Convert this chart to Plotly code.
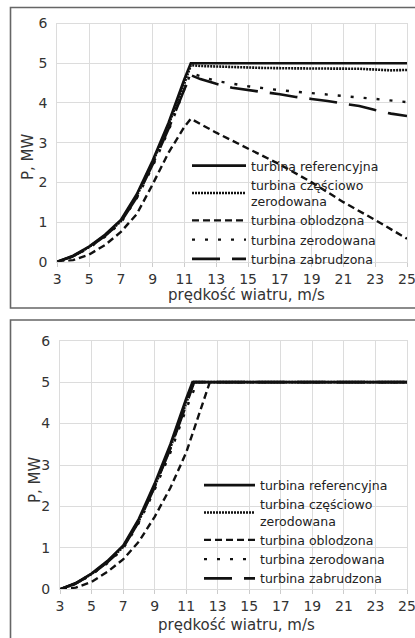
import plotly.graph_objects as go

W, H = 415, 638

# ---------------- data: top panel ----------------
v_ref = [3, 4, 5, 6, 7, 8, 9, 10, 11, 11.4, 25]
p_ref = [0.0, 0.15, 0.38, 0.68, 1.05, 1.7, 2.55, 3.5, 4.6, 5.0, 5.0]

v_part = [3, 4, 5, 6, 7, 8, 9, 10, 11, 11.4, 12, 14, 16, 18, 20, 22, 24, 25]
p_part = [0.0, 0.14, 0.37, 0.66, 1.02, 1.66, 2.5, 3.45, 4.5, 4.95, 4.93, 4.9, 4.88, 4.87, 4.87, 4.86, 4.82, 4.83]

v_ice = [3, 4, 5, 6, 7, 8, 9, 10, 11, 11.4, 13, 15, 17, 19, 21, 23, 25]
p_ice = [0.0, 0.04, 0.18, 0.42, 0.75, 1.2, 1.95, 2.75, 3.4, 3.6, 3.25, 2.85, 2.45, 2.0, 1.5, 1.05, 0.58]

v_ero = [3, 4, 5, 6, 7, 8, 9, 10, 11, 11.4, 13, 15, 17, 19, 21, 23, 25]
p_ero = [0.0, 0.13, 0.35, 0.63, 0.98, 1.6, 2.4, 3.3, 4.35, 4.75, 4.55, 4.42, 4.32, 4.25, 4.17, 4.1, 4.02]

v_dirt = [3, 4, 5, 6, 7, 8, 9, 10, 11, 11.4, 12, 13, 14, 15, 16, 17, 18, 19, 20, 21, 22, 23, 24, 25]
p_dirt = [0.0, 0.14, 0.36, 0.65, 1.0, 1.62, 2.45, 3.35, 4.35, 4.7, 4.6, 4.48, 4.38, 4.32, 4.27, 4.22, 4.15, 4.1, 4.05, 3.98, 3.92, 3.82, 3.73, 3.67]

# ---------------- data: bottom panel ----------------
v2_ref = [3, 4, 5, 6, 7, 8, 9, 10, 11, 11.4, 25]
p2_ref = [0.0, 0.15, 0.38, 0.68, 1.05, 1.7, 2.55, 3.5, 4.6, 5.0, 5.0]

v2_part = [3, 4, 5, 6, 7, 8, 9, 10, 11, 11.5, 25]
p2_part = [0.0, 0.14, 0.37, 0.66, 1.02, 1.65, 2.48, 3.42, 4.5, 5.0, 5.0]

v2_ice = [3, 4, 5, 6, 7, 8, 9, 10, 11, 12, 12.5, 25]
p2_ice = [0.0, 0.04, 0.18, 0.42, 0.72, 1.15, 1.75, 2.45, 3.3, 4.4, 5.0, 5.0]

v2_ero = [3, 4, 5, 6, 7, 8, 9, 10, 11, 11.7, 25]
p2_ero = [0.0, 0.13, 0.35, 0.63, 0.98, 1.6, 2.4, 3.3, 4.35, 5.0, 5.0]

v2_dirt = [3, 4, 5, 6, 7, 8, 9, 10, 11, 11.5, 25]
p2_dirt = [0.0, 0.14, 0.36, 0.65, 1.0, 1.63, 2.47, 3.4, 4.45, 5.0, 5.0]

names = ["turbina referencyjna", "turbina częściowo<br>zerodowana",
         "turbina oblodzona", "turbina zerodowana", "turbina zabrudzona"]
x_title = "prędkość wiatru, m/s"
y_title = "P, MW"
x_ticks = [3, 5, 7, 9, 11, 13, 15, 17, 19, 21, 23, 25]
y_ticks = [0, 1, 2, 3, 4, 5, 6]

styles = [
    dict(color="#111", width=2.6, dash="solid"),
    dict(color="#111", width=2.6, dash="2px,1px"),
    dict(color="#111", width=2.4, dash="7px,4px"),
    dict(color="#111", width=2.4, dash="3px,10px"),
    dict(color="#111", width=2.6, dash="28px,12px"),
]

fig = go.Figure()
top = [(v_ref, p_ref), (v_part, p_part), (v_ice, p_ice), (v_ero, p_ero), (v_dirt, p_dirt)]
bot = [(v2_ref, p2_ref), (v2_part, p2_part), (v2_ice, p2_ice), (v2_ero, p2_ero), (v2_dirt, p2_dirt)]
for (x, y), n, s in zip(top, names, styles):
    fig.add_trace(go.Scatter(x=x, y=y, mode="lines", name=n, line=s,
                             xaxis="x", yaxis="y", legend="legend"))
for (x, y), n, s in zip(bot, names, styles):
    fig.add_trace(go.Scatter(x=x, y=y, mode="lines", name=n, line=s,
                             xaxis="x2", yaxis="y2", legend="legend2"))

def px_x(p):
    return p / W

def px_y(p):
    return 1 - p / H

FAM = "DejaVu Sans, Liberation Sans, Arial, sans-serif"
font = dict(family=FAM, color="#222")
axis_common = dict(showgrid=True, gridcolor="#dcdcdc", gridwidth=1, showline=True,
                   linecolor="#dcdcdc", linewidth=1, mirror=True, zeroline=False,
                   tickfont=dict(family=FAM, size=14, color="#333"), fixedrange=True,
                   automargin=False, ticklabeloverflow="allow")
title_font = dict(family=FAM, size=15, color="#333")

fig.update_layout(
    width=W, height=H, margin=dict(l=0, r=0, t=0, b=0, autoexpand=False),
    paper_bgcolor="white", plot_bgcolor="white", font=font,
    xaxis=dict(domain=[px_x(57.3), px_x(407)], range=[3, 25], tickvals=x_ticks,
               ticks="outside", ticklen=4, tickcolor="#ccc", anchor="y",
               **axis_common),
    yaxis=dict(domain=[px_y(261.7), px_y(23.5)], range=[0, 6], tickvals=y_ticks,
               ticks="outside", ticklen=6, tickcolor="white", anchor="x",
               **axis_common),
    xaxis2=dict(domain=[px_x(60), px_x(407)], range=[3, 25], tickvals=x_ticks,
                ticks="outside", ticklen=4, tickcolor="#ccc", anchor="y2",
                **axis_common),
    yaxis2=dict(domain=[px_y(589.3), px_y(340.7)], range=[0, 6], tickvals=y_ticks,
                ticks="outside", ticklen=6, tickcolor="white", anchor="x2",
                **axis_common),
    legend=dict(x=px_x(187), y=px_y(151), xanchor="left", yanchor="top",
                bgcolor="rgba(0,0,0,0)", font=dict(family=FAM, size=12.5, color="#222"),
                itemwidth=54, tracegroupgap=0, traceorder="normal"),
    legend2=dict(x=px_x(199), y=px_y(470.5), xanchor="left", yanchor="top",
                 bgcolor="rgba(0,0,0,0)", font=dict(family=FAM, size=12.5, color="#222"),
                 itemwidth=51, tracegroupgap=0, traceorder="normal"),
    showlegend=True,
)

# axis titles
for (xc, yc) in [(246, 295), (236, 625)]:
    fig.add_annotation(text=x_title, xref="paper", yref="paper", x=px_x(xc), y=px_y(yc),
                       xanchor="center", yanchor="middle", showarrow=False, font=title_font)
for (xc, yc) in [(28, 157), (35, 480)]:
    fig.add_annotation(text=y_title, xref="paper", yref="paper", x=px_x(xc), y=px_y(yc),
                       xanchor="center", yanchor="middle", showarrow=False, font=title_font,
                       textangle=-90)

# panel frames
fig.add_shape(type="rect", xref="paper", yref="paper",
              x0=px_x(10.5), x1=px_x(420), y0=px_y(308), y1=px_y(7.5),
              line=dict(color="#666", width=1.6), layer="above")
fig.add_shape(type="rect", xref="paper", yref="paper",
              x0=px_x(10.5), x1=px_x(420), y0=px_y(645), y1=px_y(320),
              line=dict(color="#666", width=1.6), layer="above")

fig.write_html("out.html", config={"displayModeBar": False},
               post_script="document.body.style.margin='0';")
